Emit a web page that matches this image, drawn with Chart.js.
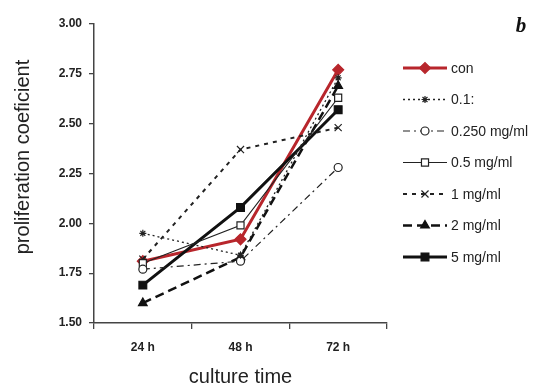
<!DOCTYPE html>
<html>
<head>
<meta charset="utf-8">
<script src="https://cdn.jsdelivr.net/npm/chart.js@4/dist/chart.umd.min.js"></script>
<style>
  html, body { margin: 0; padding: 0; background: #fff; }
  #wrap { width: 535px; height: 387px; }
</style>
</head>
<body>
<div id="wrap"><canvas id="chart" width="535" height="387"></canvas></div>
<script>
// dados
const categorias = ['24 h', '48 h', '72 h'];
const rotulos = ['con', '0.1:', '0.250 mg/ml', '0.5 mg/ml', '1 mg/ml', '2 mg/ml', '5 mg/ml'];
const con   = [1.81, 1.92, 2.77];
const c01   = [1.95, 1.84, 2.73];
const c0250 = [1.77, 1.81, 2.28];
const c05   = [1.80, 1.99, 2.63];
const c1    = [1.82, 2.37, 2.48];
const c2    = [1.60, 1.83, 2.69];
const c5    = [1.69, 2.08, 2.57];
const yTicks = [1.5, 1.75, 2.0, 2.25, 2.5, 2.75, 3.0];

const FONT = "'Liberation Sans', Arial, sans-serif";
const RED = '#b8262c';

function serie(label, data, cor, largura, traco, ponto, raio, preenchido) {
  return {
    label: label,
    data: data,
    borderColor: cor,
    borderWidth: largura,
    borderDash: traco,
    pointStyle: ponto,
    pointRadius: raio,
    pointBorderColor: cor,
    pointBorderWidth: 1.2,
    pointBackgroundColor: preenchido ? cor : '#fff',
    tension: 0,
    fill: false
  };
}

const datasets = [
  serie(rotulos[1], c01, '#222', 1.3, [2, 3], 'star', 3.5, false),
  serie(rotulos[2], c0250, '#222', 1.2, [7, 4, 2, 4], 'circle', 4, false),
  serie(rotulos[3], c05, '#222', 1.2, [], 'rect', 5, false),
  serie(rotulos[4], c1, '#222', 2, [4, 5], 'crossRot', 5, false),
  serie(rotulos[5], c2, '#111', 2.5, [9, 5], 'triangle', 5, true),
  serie(rotulos[6], c5, '#111', 3, [], 'rect', 5.5, true),
  serie(rotulos[0], con, RED, 3, [], 'rectRot', 5.5, true)
];

// legenda desenhada à mão (linha + marcador no meio)
const legendaPlugin = {
  id: 'legenda',
  afterDraw(chart) {
    const ctx = chart.ctx;
    const ordem = [6, 0, 1, 2, 3, 4, 5];
    ctx.save();
    ordem.forEach((idx, i) => {
      const ds = chart.data.datasets[idx];
      const y = 68 + i * 31.5;
      ctx.strokeStyle = ds.borderColor;
      ctx.lineWidth = ds.borderWidth;
      ctx.setLineDash(ds.borderDash || []);
      ctx.beginPath();
      ctx.moveTo(403, y);
      ctx.lineTo(447, y);
      ctx.stroke();
      ctx.setLineDash([]);
      ctx.fillStyle = ds.pointBackgroundColor;
      ctx.strokeStyle = ds.pointBorderColor;
      ctx.lineWidth = ds.pointBorderWidth;
      Chart.helpers.drawPoint(ctx, {
        pointStyle: ds.pointStyle,
        radius: ds.pointRadius,
        rotation: 0,
        borderWidth: ds.pointBorderWidth
      }, 425, y);
      ctx.fillStyle = '#222';
      ctx.font = '14px ' + FONT;
      ctx.textBaseline = 'middle';
      ctx.textAlign = 'left';
      ctx.fillText(ds.label, 451, y + 1);
    });

    // título do eixo y
    ctx.translate(23, 157);
    ctx.rotate(-Math.PI / 2);
    ctx.fillStyle = '#222';
    ctx.font = '20px ' + FONT;
    ctx.textAlign = 'center';
    ctx.textBaseline = 'middle';
    ctx.fillText('proliferation coeficient', 0, 0);
    ctx.restore();

    // letra do painel
    ctx.save();
    ctx.fillStyle = '#111';
    ctx.font = "bold italic 21px 'Liberation Serif', 'Times New Roman', serif";
    ctx.textAlign = 'center';
    ctx.textBaseline = 'middle';
    ctx.fillText('b', 521, 27);
    ctx.restore();
  }
};

const ctx = document.getElementById('chart').getContext('2d');
window.chart = new Chart(ctx, {
  type: 'line',
  data: { labels: categorias, datasets: datasets },
  options: {
    responsive: false,
    animation: false,
    layout: { padding: { top: 24, right: 148, left: 0, bottom: 0 } },
    plugins: { legend: { display: false }, tooltip: { enabled: false } },
    scales: {
      x: {
        offset: true,
        grid: { offset: true, drawOnChartArea: false, tickLength: 6, color: '#444', lineWidth: 1.3 },
        border: { color: '#444', width: 1.5 },
        ticks: { color: '#222', padding: 11, font: { family: FONT, size: 12, weight: 'bold' } },
        title: { display: true, text: 'culture time', color: '#222', font: { family: FONT, size: 20, lineHeight: 1 }, padding: { top: 0, bottom: 0 } },
        afterFit(scale) { scale.height = 64; }
      },
      y: {
        min: 1.5,
        max: 3.0,
        afterBuildTicks(scale) { scale.ticks = yTicks.map(v => ({ value: v })); },
        grid: { drawOnChartArea: false, tickLength: 5, color: '#444', lineWidth: 1.3 },
        border: { color: '#444', width: 1.5 },
        ticks: {
          color: '#222', padding: 7,
          font: { family: FONT, size: 12, weight: 'bold' },
          callback: v => Number(v).toFixed(2)
        },
        afterFit(scale) { scale.width = 94; }
      }
    }
  },
  plugins: [legendaPlugin]
});
</script>
</body>
</html>
